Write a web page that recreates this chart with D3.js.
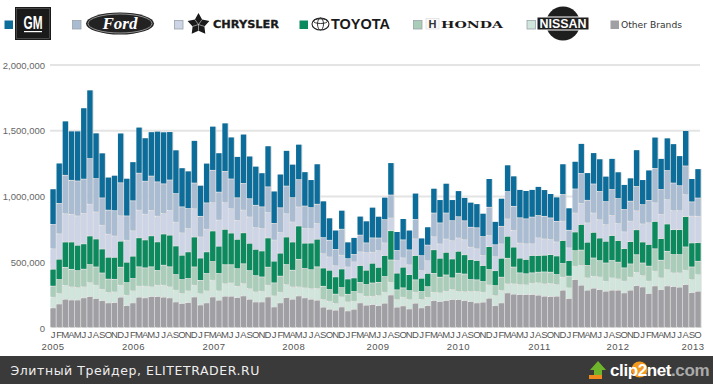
<!DOCTYPE html>
<html><head><meta charset="utf-8">
<script src="https://cdnjs.cloudflare.com/ajax/libs/d3/7.8.5/d3.min.js"></script>
<style>html,body{margin:0;padding:0;background:#fff}svg{display:block}</style>
</head><body><div id="c"></div>
<script>
// Values in thousands of vehicles per month, Jan 2005 – Oct 2013
const other=[150,180,215,210,210,226,236,221,205,188,190,231,167,188,231,226,236,236,231,226,195,183,190,233,172,188,
233,208,238,238,228,241,215,195,195,233,157,188,228,215,241,226,215,208,155,139,132,157,127,139,188,170,
175,167,185,248,155,165,142,185,150,167,205,198,205,213,213,205,198,188,193,223,167,188,264,254,251,251,251,
246,238,236,238,284,221,365,322,284,299,289,276,284,284,264,284,319,309,259,317,289,317,312,307,327,266,276];
const nissan=[81,79,106,99,94,84,106,101,86,79,81,91,79,91,84,89,74,86,91,84,89,76,89,89,86,91,
127,71,96,101,86,94,81,76,81,89,84,81,99,94,68,76,81,89,58,61,51,76,68,61,71,68,
63,76,84,96,58,66,71,84,63,63,63,66,71,76,61,68,76,86,76,101,76,94,68,79,76,74,86,
94,94,99,89,99,81,101,150,94,91,96,76,94,86,89,99,101,86,94,112,89,124,104,109,109,99,127];
const honda=[84,106,137,134,129,134,137,139,124,101,96,137,96,94,147,139,152,112,152,152,119,106,94,139,101,132,
142,132,144,139,134,150,137,124,109,137,99,122,152,127,210,147,144,165,101,89,71,71,58,74,84,89,
101,101,119,170,74,71,68,94,61,81,144,119,124,89,139,134,91,89,81,117,76,101,195,127,89,84,79,
81,91,86,76,104,89,119,117,94,139,124,139,132,127,101,101,134,96,114,170,134,139,139,139,177,96,101];
const toyota=[129,155,193,208,193,193,218,213,183,167,167,198,155,170,221,213,236,218,238,241,218,185,203,228,170,165,
233,208,269,241,223,236,208,200,198,223,165,175,210,215,254,193,203,210,139,147,132,142,117,104,129,109,
150,114,160,223,127,157,122,185,101,101,180,144,172,144,167,147,152,147,122,175,114,144,167,152,112,109,132,
127,127,134,142,175,119,142,195,177,195,172,165,190,165,147,170,190,160,165,208,165,208,190,190,231,183,142];
const chrysler=[155,193,215,210,223,231,241,205,180,175,162,193,167,193,210,195,193,195,155,188,180,170,177,215,160,172,
215,198,203,185,144,172,200,165,170,193,160,157,177,152,144,112,109,119,109,101,84,104,91,122,104,134,
84,127,96,96,96,71,74,127,58,96,99,109,101,139,101,114,94,89,76,84,106,109,132,127,114,119,89,
134,124,114,106,147,96,144,160,147,147,139,127,152,129,127,155,144,137,165,142,183,185,144,144,167,203,200];
const ford=[185,231,292,259,266,261,347,254,208,183,193,251,185,228,281,251,261,261,226,231,218,198,152,195,157,200,
246,213,238,226,172,203,139,170,165,195,127,188,210,185,208,170,160,147,122,127,124,198,63,56,127,74,
109,96,177,175,76,137,114,147,114,119,180,160,198,152,162,144,152,160,144,215,91,134,208,183,193,190,203,
170,172,165,157,203,134,183,228,172,221,215,175,198,190,170,152,185,147,170,261,190,221,210,190,218,109,139];
const gm=[271,307,413,375,380,542,522,347,342,251,269,378,286,297,350,330,337,385,395,368,332,297,286,324,236,302,
335,299,368,319,314,375,324,297,259,312,246,256,271,254,269,261,213,307,279,170,147,144,127,129,144,167,
233,165,170,246,144,162,150,200,134,139,188,177,226,160,198,177,190,183,177,218,177,213,203,231,215,215,210,
221,203,185,185,233,170,210,228,210,238,248,193,236,203,190,177,279,190,231,238,236,248,299,228,269,177,223];

const monthLetters=["J","F","M","A","M","J","J","A","S","O","N","D"];
const years=["2005","2006","2007","2008","2009","2010","2011","2012","2013"];
const yearLabelMonth=[0.5,13.6,26.7,39.7,53.4,66.5,79.7,92.5,104.7];
const yTicks=[0,500,1000,1500,2000];
const seriesNames=["other","nissan","honda","toyota","chrysler","ford","gm"];
const seriesValues=[other,nissan,honda,toyota,chrysler,ford,gm];
const seriesColors=["#a0a0a4","#d0e5db","#a9cdb8","#0c8a5e","#ccd4e6","#a9bcd2","#0c6c9a"];

const W=713,H=384;
const svg=d3.select("#c").append("svg").attr("width",W).attr("height",H);
const months=d3.range(other.length);
const table=months.map(i=>{const o={i};seriesNames.forEach((n,s)=>o[n]=seriesValues[s][i]);return o;});
const stacked=d3.stack().keys(seriesNames)(table);

const x=d3.scaleBand().domain(months).range([50,701]).paddingInner(0.13).paddingOuter(0.06);
const xLin=d3.scaleLinear().domain([0,months.length]).range([50,701]);
const y=d3.scaleLinear().domain([0,2000]).range([328,65]);
const SANS="'Liberation Sans',Arial,sans-serif";

// grid
svg.append("g").selectAll("line").data(yTicks.slice(1)).join("line")
 .attr("x1",50).attr("x2",700).attr("y1",d=>y(d)).attr("y2",d=>y(d))
 .attr("stroke","#e4e4e4").attr("stroke-width",2);

// y axis
const ya=svg.append("g").attr("transform","translate(45,0)")
 .call(d3.axisLeft(y).tickValues(yTicks).tickSize(0).tickPadding(0).tickFormat(d=>d3.format(",")(d*1000)));
ya.select(".domain").remove();
ya.selectAll("text").attr("font-family",SANS).attr("font-size",9.5).attr("fill","#666");

// bar shadows
svg.append("g").selectAll("rect").data(table).join("rect")
 .attr("x",d=>x(d.i)+1).attr("width",x.bandwidth())
 .attr("y",d=>y(d3.sum(seriesNames,n=>d[n]))).attr("height",d=>328-y(d3.sum(seriesNames,n=>d[n])))
 .attr("fill","#dcdcdc");

// bars
svg.append("g").selectAll("g").data(stacked).join("g").attr("fill",(d,i)=>seriesColors[i])
 .selectAll("rect").data(d=>d).join("rect")
 .attr("x",d=>x(d.data.i)).attr("width",x.bandwidth())
 .attr("y",d=>y(d[1])).attr("height",d=>Math.max(0,y(d[0])-y(d[1])-0.8));

// month axis
const xa=svg.append("g").attr("transform","translate(0,328)")
 .call(d3.axisBottom(x).tickSize(0).tickPadding(3).tickFormat(i=>monthLetters[i%12]));
xa.select(".domain").remove();
xa.selectAll("text").attr("font-family",SANS).attr("font-size",9.5).attr("fill","#555");

// year labels
svg.append("g").selectAll("text").data(years).join("text")
 .attr("x",(d,i)=>xLin(yearLabelMonth[i])).attr("y",350).attr("text-anchor","middle")
 .attr("font-family",SANS).attr("font-size",9.5).attr("letter-spacing",0.5).attr("fill","#555").text(d=>d);

// legend swatches
const swatches=[{n:"gm",x:4},{n:"ford",x:72},{n:"chrysler",x:174},{n:"toyota",x:299},{n:"honda",x:413},{n:"nissan",x:526.5},{n:"other",x:610}];
const colorOf=d3.scaleOrdinal(seriesNames,seriesColors);
svg.append("g").selectAll("rect").data(swatches).join("rect")
 .attr("x",d=>d.x+.5).attr("y",20.5).attr("width",8.5).attr("height",8.5)
 .attr("fill",d=>colorOf(d.n))
 .attr("stroke",d=>(d.n==="gm"||d.n==="toyota"||d.n==="other")?"none":"#9aa3a8").attr("stroke-width",.8);

const lg=svg.append("g");
// GM
lg.append("rect").attr("x",15).attr("y",7).attr("width",36).attr("height",33).attr("fill","#1a1a1a");
lg.append("rect").attr("x",16.5).attr("y",8.5).attr("width",33).attr("height",30).attr("fill","none").attr("stroke","#666").attr("stroke-width",.6);
lg.append("text").attr("x",33).attr("y",29).attr("text-anchor","middle").attr("font-family","'Liberation Sans Narrow','Liberation Sans'")
 .attr("font-weight",700).attr("font-size",18).attr("fill","#fff").attr("textLength",19).attr("lengthAdjust","spacingAndGlyphs").text("GM");
lg.append("rect").attr("x",24).attr("y",31).attr("width",18).attr("height",1.2).attr("fill","#fff");
// Ford
lg.append("ellipse").attr("cx",120).attr("cy",23.5).attr("rx",34).attr("ry",11).attr("fill","#222");
lg.append("ellipse").attr("cx",120).attr("cy",23.5).attr("rx",32).attr("ry",9.5).attr("fill","none").attr("stroke","#ddd").attr("stroke-width",.6);
lg.append("text").attr("x",120).attr("y",29).attr("text-anchor","middle").attr("font-family","'Liberation Serif',serif")
 .attr("font-style","italic").attr("font-weight",700).attr("font-size",17).attr("fill","#fff").text("Ford");
// Chrysler
const star=lg.append("g").attr("transform","translate(198.5,24.5)");
star.append("path").attr("fill","#1a1a1a")
 .attr("d",d3.range(10).map(i=>{const a=-Math.PI/2+i*Math.PI/5,r=i%2?6.2:11.5;return (i?"L":"M")+(r*Math.cos(a)).toFixed(1)+","+(r*Math.sin(a)).toFixed(1);}).join("")+"Z");
star.selectAll("line").data(d3.range(5)).join("line").attr("x1",0).attr("y1",0)
 .attr("x2",i=>6.2*Math.cos(-Math.PI/2+(2*i+1)*Math.PI/5)).attr("y2",i=>6.2*Math.sin(-Math.PI/2+(2*i+1)*Math.PI/5))
 .attr("stroke","#fff").attr("stroke-width",.5);
lg.append("text").attr("x",213).attr("y",28).attr("font-family","'DejaVu Sans',sans-serif").attr("font-weight",700)
 .attr("font-size",11).attr("fill","#1a1a1a").attr("stroke","#1a1a1a").attr("stroke-width",.3).attr("textLength",66).attr("lengthAdjust","spacingAndGlyphs").text("CHRYSLER");
// Toyota
lg.append("ellipse").attr("cx",320.5).attr("cy",24).attr("rx",8.5).attr("ry",6).attr("fill","none").attr("stroke","#222").attr("stroke-width",1.1);
lg.append("ellipse").attr("cx",320.5).attr("cy",24).attr("rx",3).attr("ry",6).attr("fill","none").attr("stroke","#222").attr("stroke-width",.9);
lg.append("ellipse").attr("cx",320.5).attr("cy",21.2).attr("rx",7).attr("ry",2.3).attr("fill","none").attr("stroke","#222").attr("stroke-width",.9);
lg.append("text").attr("x",331).attr("y",29).attr("font-family",SANS).attr("font-weight",700)
 .attr("font-size",14).attr("fill","#1a1a1a").attr("textLength",59).attr("lengthAdjust","spacingAndGlyphs").text("TOYOTA");
// Honda
lg.append("rect").attr("x",426).attr("y",18.5).attr("width",13).attr("height",10.5).attr("fill","#fafafa").attr("stroke","#ddd").attr("stroke-width",.7);
lg.append("text").attr("x",432.5).attr("y",28).attr("text-anchor","middle").attr("font-family",SANS).attr("font-weight",700)
 .attr("font-size",11).attr("fill","#333").text("H");
lg.append("text").attr("x",441).attr("y",28).attr("font-family","'DejaVu Serif',serif").attr("font-weight",700)
 .attr("font-size",10).attr("fill","#1a1a1a").attr("textLength",62).attr("lengthAdjust","spacingAndGlyphs").text("HONDA");
// Nissan
lg.append("circle").attr("cx",563).attr("cy",23.5).attr("r",17).attr("fill","#1e1e1e");
lg.append("rect").attr("x",536.5).attr("y",16.5).attr("width",53).attr("height",14).attr("fill","#fff");
lg.append("rect").attr("x",537.5).attr("y",17.5).attr("width",51).attr("height",12).attr("fill","#1e1e1e");
lg.append("text").attr("x",563).attr("y",28).attr("text-anchor","middle").attr("font-family",SANS).attr("font-weight",700)
 .attr("font-size",13).attr("fill","#fff").attr("textLength",47).attr("lengthAdjust","spacingAndGlyphs").text("NISSAN");
// Other
lg.append("text").attr("x",621).attr("y",28).attr("font-family","'DejaVu Sans',sans-serif")
 .attr("font-size",9.5).attr("fill","#333").attr("textLength",61).attr("lengthAdjust","spacingAndGlyphs").text("Other Brands");

// footer
svg.append("rect").attr("x",0).attr("y",356).attr("width",W).attr("height",28).attr("fill","#3a3a3a");
svg.append("text").attr("x",10.5).attr("y",375).attr("font-family","'DejaVu Sans',sans-serif").attr("font-size",12.5)
 .attr("fill","#eee").attr("textLength",249).attr("lengthAdjust","spacing").text("Элитный Трейдер, ELITETRADER.RU");
// clip2net mark
const f=svg.append("g");
f.append("path").attr("fill","#6fb52c").attr("d","M598 361L606 370H602V376H594V370H590Z");
f.append("rect").attr("x",589).attr("y",375).attr("width",13).attr("height",4).attr("fill","#ef8a1d");
f.append("circle").attr("cx",639.5).attr("cy",369.5).attr("r",8).attr("fill","#f39a1e");
const t=f.append("text").attr("x",610).attr("y",376).attr("font-family",SANS).attr("font-weight",700).attr("font-size",17).attr("letter-spacing",-.4);
t.append("tspan").attr("fill","#fff").text("clip2net");
t.append("tspan").attr("fill","#aaa").text(".com");
</script></body></html>
